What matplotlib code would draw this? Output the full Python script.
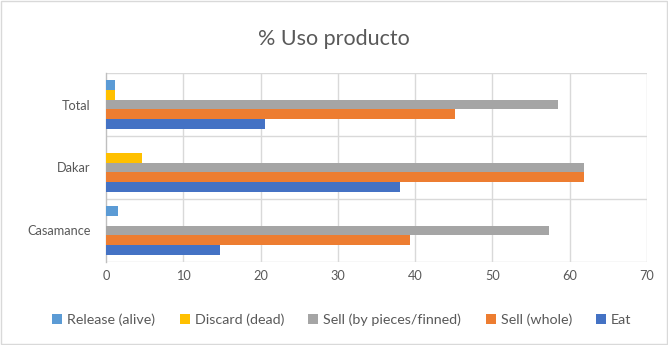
import matplotlib.pyplot as plt
import numpy as np
from matplotlib.patches import Rectangle

plt.rcParams['font.family'] = ['Lato', 'DejaVu Sans']

# Data
categories = ["Casamance", "Dakar", "Total"]
series_names = ["Release (alive)", "Discard (dead)", "Sell (by pieces/finned)", "Sell (whole)", "Eat"]
release = [1.5, 0.0, 1.2]
discard = [0.0, 4.6, 1.2]
sell_pieces = [57.3, 61.9, 58.5]
sell_whole = [39.3, 61.9, 45.1]
eat = [14.7, 38.0, 20.6]
colors = ["#5B9BD5", "#FFC000", "#A5A5A5", "#ED7D31", "#4472C4"]

values = [release, discard, sell_pieces, sell_whole, eat]

fig = plt.figure(figsize=(6.68, 3.45), dpi=100)
ax = fig.add_axes([0.1587, 0.2406, 0.8099, 0.5478])

y = np.arange(len(categories))
h = 0.153
offsets = [2 * h, h, 0, -h, -2 * h]
handles = []
for vals, off, c, name in zip(values, offsets, colors, series_names):
    b = ax.barh(y + off, vals, height=h, color=c, label=name, zorder=3)
    handles.append(b)

ax.set_xlim(0, 70)
ax.set_ylim(-0.5, 2.5)
ax.set_xticks(np.arange(0, 71, 10))
ax.set_yticks(y)
ax.set_yticklabels(categories)
ax.tick_params(axis='both', length=0, labelsize=9.2, labelcolor='#595959')
ax.tick_params(axis='x', pad=6)
ax.tick_params(axis='y', pad=11)

# gridlines: vertical at value ticks, horizontal at category boundaries
for xv in np.arange(10, 71, 10):
    ax.axvline(xv, color='#D9D9D9', lw=1, zorder=1)
for yb in np.arange(-0.5, 2.6, 1):
    ax.axhline(yb, color='#D9D9D9', lw=1, zorder=1)

for s in ['top', 'right', 'bottom']:
    ax.spines[s].set_visible(False)
ax.spines['left'].set_color('#BFBFBF')
ax.spines['left'].set_linewidth(1)

fig.text(0.5, 0.888, "% Uso producto", ha='center', va='center', fontsize=15.5, color='#595959')

fig.legend(handles=handles, loc='center', bbox_to_anchor=(0.512, 0.072), ncol=5,
           frameon=False, fontsize=10.3, labelcolor='#595959',
           handlelength=0.7, handleheight=0.7, handletextpad=0.35, columnspacing=1.7)

# chart area border
fig.patches.append(Rectangle((0.002, 0.003), 0.996, 0.994, transform=fig.transFigure,
                             fill=False, edgecolor='#D9D9D9', lw=1))

fig.savefig("out.png", dpi=100)
